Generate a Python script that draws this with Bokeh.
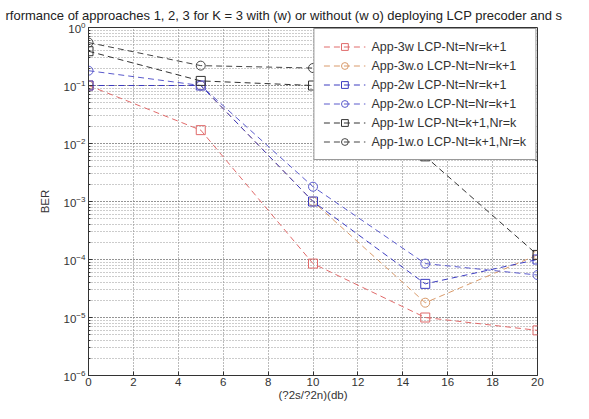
from bokeh.plotting import figure
from bokeh.models import Range1d, FixedTicker, LogTicker
from bokeh.embed import file_html
from bokeh.resources import INLINE

snr_db = [0, 5, 10, 15, 20]
app3_w = [0.1, 0.017, 8.5e-5, 1.0e-5, 6.0e-6]
app3_wo = [0.1, 0.1, 1.0e-3, 1.8e-5, 1.2e-4]
app2_w = [0.1, 0.1, 1.0e-3, 3.8e-5, 1.0e-4]
app2_wo = [0.18, 0.1, 1.8e-3, 8.5e-5, 5.4e-5]
app1_w = [0.39, 0.12, 0.1, 6.0e-3, 1.2e-4]
app1_wo = [0.55, 0.22, 0.2, 7.0e-3, 6.0e-3]

labels = [
    "App-3w LCP-Nt=Nr=k+1",
    "App-3w.o LCP-Nt=Nr=k+1",
    "App-2w LCP-Nt=Nr=k+1",
    "App-2w.o LCP-Nt=Nr=k+1",
    "App-1w LCP-Nt=k+1,Nr=k",
    "App-1w.o LCP-Nt=k+1,Nr=k",
]
series = [app3_w, app3_wo, app2_w, app2_wo, app1_w, app1_wo]
markers = ["square", "circle", "square", "circle", "square", "circle"]
colors = ["#e06a6a", "#d99a6a", "#3c3cc0", "#5a5acc", "#333333", "#444444"]
x_ticks = [0, 2, 4, 6, 8, 10, 12, 14, 16, 18, 20]

FONT = "Liberation Sans"

p = figure(width=573, height=403, output_backend="svg", toolbar_location=None,
           y_axis_type="log", x_range=Range1d(0, 20), y_range=Range1d(1e-6, 1),
           min_border_left=88, min_border_right=36, min_border_top=20, min_border_bottom=20)

p.title.text = "rformance of approaches 1, 2, 3 for K = 3 with (w) or without (w o) deploying LCP precoder and s"
p.title.text_font = FONT
p.title.text_font_size = "13px"
p.title.text_font_style = "normal"
p.title.text_color = "#222222"
p.title.align = "left"
p.title.standoff = 10
p.title.offset = -83

p.outline_line_color = "#333333"
p.outline_line_width = 1
p.background_fill_color = "white"
p.border_fill_color = "white"

p.xaxis.ticker = FixedTicker(ticks=x_ticks)
p.yaxis.ticker = LogTicker(num_minor_ticks=10)
for ax in (p.xaxis, p.yaxis):
    ax.major_label_text_font = FONT
    ax.major_label_text_font_size = "11.5px"
    ax.major_label_text_color = "#333333"
    ax.axis_label_text_font = FONT
    ax.axis_label_text_font_size = "11.5px"
    ax.axis_label_text_font_style = "normal"
    ax.axis_label_text_color = "#333333"
    ax.axis_line_color = "#333333"
    ax.major_tick_line_color = "#333333"
    ax.major_tick_in = 4
    ax.major_tick_out = 0
    ax.minor_tick_in = 2
    ax.minor_tick_out = 0
    ax.major_label_standoff = 2
    ax.axis_label_standoff = 0
p.xaxis.minor_tick_line_color = None
p.yaxis.minor_tick_line_color = "#333333"
p.xaxis.axis_label = "(?2s/?2n)(db)"
p.yaxis.axis_label = "BER"
p.yaxis.axis_label_standoff = 10
p.yaxis.major_label_standoff = 3

p.xgrid.grid_line_color = "#777777"
p.xgrid.grid_line_dash = "1 2"
p.ygrid.grid_line_color = "#777777"
p.ygrid.grid_line_dash = "1 2"
p.ygrid.minor_grid_line_color = "#999999"
p.ygrid.minor_grid_line_dash = "1 2"

for ys, lab, mk, col in zip(series, labels, markers, colors):
    p.line(snr_db, ys, line_color=col, line_width=1, line_dash="6 4", legend_label=lab)
    p.scatter(snr_db, ys, marker=mk, size=9, line_color=col, fill_color=None,
              line_width=1, legend_label=lab)

lg = p.legend[0]
lg.location = "top_right"
lg.margin = 1
lg.padding = 9
lg.spacing = 2
lg.label_text_font = FONT
lg.label_text_font_size = "12.5px"
lg.label_text_color = "#333333"
lg.label_height = 17
lg.glyph_height = 17
lg.glyph_width = 42
lg.label_standoff = 6
lg.border_line_color = "#333333"
lg.border_line_width = 1
lg.background_fill_color = "white"
lg.background_fill_alpha = 1

open("out.html", "w").write(file_html(p, INLINE))
